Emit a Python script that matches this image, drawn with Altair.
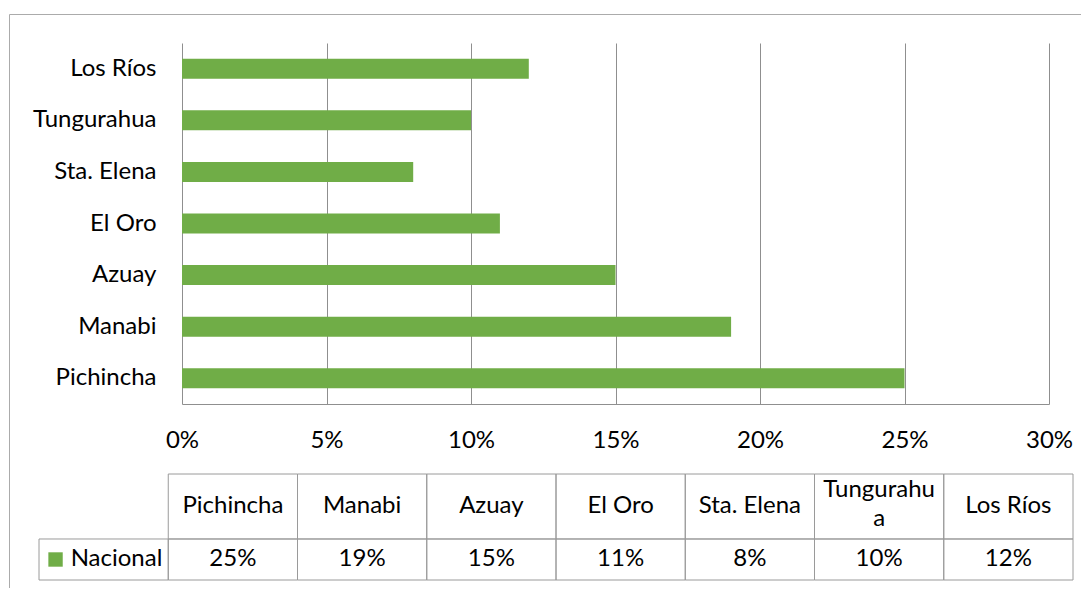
import altair as alt
import pandas as pd

# ---- data ----
states = ["Pichincha", "Manabi", "Azuay", "El Oro", "Sta. Elena", "Tungurahua", "Los Ríos"]
values = [0.25, 0.19, 0.15, 0.11, 0.08, 0.10, 0.12]
header_labels = ["Pichincha", "Manabi", "Azuay", "El Oro", "Sta. Elena", "Tungurahu\na", "Los Ríos"]
series_name = "Nacional"
tick_values = [0, 0.05, 0.10, 0.15, 0.20, 0.25, 0.30]

GREEN = "#70AD47"
GRID = "#8F8F8F"
CELL = "#9A9A9A"
BORDER = "#ABABAB"
FONT = "Lato"
FS = 24
LINE_STEP = 1.2  # line spacing inside table cells, in row units

W, H = 1100, 600

bar_df = pd.DataFrame({"state": states, "value": values})
tick_df = pd.DataFrame({"tick": tick_values})

# table layout: rows sized by number of text lines (1 unit ~ 1 text line)
row_lines = [2, 1]
pad = 0.71
h0 = row_lines[0] + pad
h1 = row_lines[1] + pad
total = h0 + h1
cols = ["__legend"] + states

cell_rows = []
for s in states:
    cell_rows.append({"col": s, "y0": 0, "y1": h0})
for c in cols:
    cell_rows.append({"col": c, "y0": h0, "y1": total})
cell_df = pd.DataFrame(cell_rows)

head_rows = []
for s, lab in zip(states, header_labels):
    lines = lab.split("\n")
    n = len(lines)
    for i, ln in enumerate(lines):
        head_rows.append({"col": s, "label": ln,
                          "ym": h0 / 2 - 0.08 * (n - 1) - (n - 1) / 2 * LINE_STEP + i * LINE_STEP})
head_df = pd.DataFrame(head_rows)

val_df = pd.DataFrame({
    "col": states,
    "label": [f"{round(v * 100)}%" for v in values],
    "ym": [h0 + h1 / 2] * len(states),
})
leg_df = pd.DataFrame({"col": ["__legend"], "label": [series_name], "ym": [h0 + h1 / 2]})

# ---- bar part ----
x_scale = alt.Scale(domain=[0, 0.30], range=[173, 1040], nice=False, zero=True)
xb = alt.X(
    "value:Q",
    scale=x_scale,
    axis=alt.Axis(
        values=tick_values, orient="top", grid=True, gridColor=GRID, gridWidth=1,
        domain=False, ticks=False, labels=False, title=None,
    ),
)
yb = alt.Y(
    "state:N",
    sort=states[::-1],
    scale=alt.Scale(domain=states[::-1], range=[29, 390], paddingInner=0.612, paddingOuter=0.306),
    axis=alt.Axis(
        orient="left", offset=-173, domain=False, ticks=False, tickSize=0, grid=False,
        labelPadding=26, labelFont=FONT, labelFontSize=FS, labelColor="#000000", title=None,
    ),
)
bars = alt.Chart(bar_df).mark_bar(color=GREEN).encode(x=xb, y=yb)

xlab = alt.Chart(tick_df).mark_point(opacity=0).encode(
    x=alt.X(
        "tick:Q",
        scale=x_scale,
        axis=alt.Axis(
            values=tick_values, format=".0%", orient="bottom", offset=390 - H,
            grid=False, domain=True, domainColor=GRID, domainWidth=1,
            ticks=False, tickSize=0, labelPadding=24, labelFont=FONT, labelFontSize=FS,
            labelColor="#000000", title=None, labelFlush=False,
        ),
    )
)
bar_part = alt.layer(bars, xlab).resolve_axis(x="independent")

# ---- table part ----
xt_scale = alt.Scale(domain=cols, range=[30, 1064], paddingInner=0, paddingOuter=0)
xt = alt.X("col:N", sort=cols, scale=xt_scale, axis=None)
yt_scale = alt.Scale(domain=[0, total], range=[460, 566], nice=False, zero=False)

cells = alt.Chart(cell_df).mark_rect(fillOpacity=0, stroke=CELL, strokeWidth=1).encode(
    x=xt, y=alt.Y("y0:Q", scale=yt_scale, axis=None), y2="y1:Q"
)
head_txt = alt.Chart(head_df).mark_text(
    font=FONT, fontSize=FS, color="#000000", baseline="middle"
).encode(x=xt, y=alt.Y("ym:Q", scale=yt_scale, axis=None), text="label:N")
val_txt = alt.Chart(val_df).mark_text(
    font=FONT, fontSize=FS, color="#000000", baseline="middle"
).encode(x=xt, y=alt.Y("ym:Q", scale=yt_scale, axis=None), text="label:N")
leg_txt = alt.Chart(leg_df).mark_text(
    font=FONT, fontSize=FS, color="#000000", baseline="middle", align="left", dx=-33
).encode(x=xt, y=alt.Y("ym:Q", scale=yt_scale, axis=None), text="label:N")
leg_sq = alt.Chart(leg_df).mark_square(size=207, color=GREEN, opacity=1, filled=True).encode(
    x=alt.X("col:N", sort=cols, scale=xt_scale, axis=None, bandPosition=0.128),
    y=alt.Y("ym:Q", scale=yt_scale, axis=None),
)
table = alt.layer(cells, head_txt, val_txt, leg_sq, leg_txt)

chart = alt.layer(bar_part, table).resolve_scale(x="independent", y="independent").properties(
    width=W, height=H,
    autosize=alt.AutoSizeParams(type="none"),
    padding={"left": 1, "top": 6, "right": 1073 - 1 - W, "bottom": 580 - 6 - H},
).configure_view(stroke=BORDER, strokeWidth=1)

chart.save("out.html", embed_options={"renderer": "svg", "actions": False})
